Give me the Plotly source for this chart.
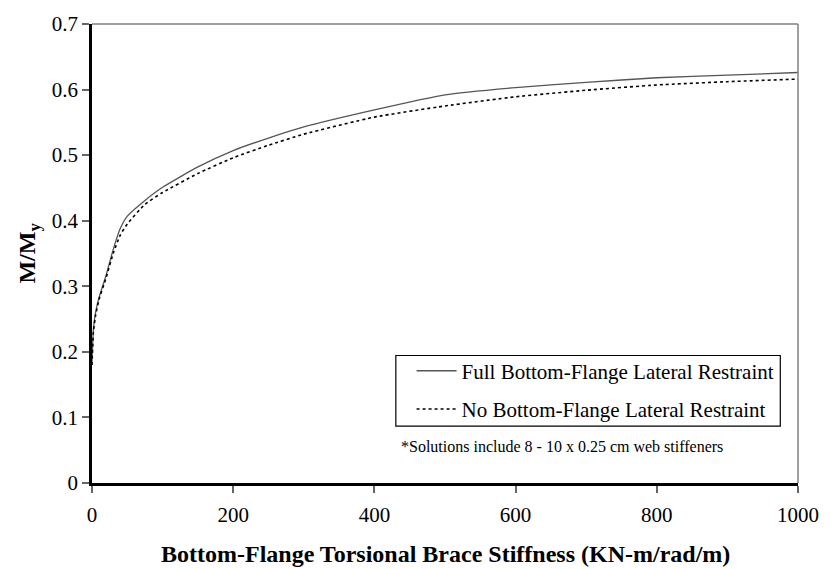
import plotly.graph_objects as go

stiffness = [0, 2, 5, 10, 20, 30, 40, 50, 75, 100, 150, 200, 250, 300, 400, 500, 600, 700, 800, 900, 1000]
full_restraint = [0.185, 0.235, 0.26, 0.283, 0.317, 0.356, 0.388, 0.407, 0.431, 0.451, 0.482, 0.507, 0.526, 0.543, 0.569, 0.592, 0.603, 0.611, 0.618, 0.622, 0.626]
no_restraint = [0.18, 0.23, 0.255, 0.28, 0.313, 0.35, 0.378, 0.395, 0.425, 0.443, 0.472, 0.496, 0.515, 0.532, 0.558, 0.575, 0.589, 0.599, 0.607, 0.612, 0.616]

x_ticks = [0, 200, 400, 600, 800, 1000]
y_ticks = [0, 0.1, 0.2, 0.3, 0.4, 0.5, 0.6, 0.7]
y_tick_text = ["0", "0.1", "0.2", "0.3", "0.4", "0.5", "0.6", "0.7"]

FONT = "Liberation Serif, Times New Roman, serif"

# plot area in pixels
L, R, T, B = 92, 810, 15, 483
PW, PH = R - L, B - T


def px(xp):
    return (xp - L) / PW


def py(yp):
    return (B - yp) / PH


fig = go.Figure()
fig.add_trace(go.Scatter(x=stiffness, y=full_restraint, mode="lines",
                         name="Full Bottom-Flange Lateral Restraint", legendgroup="a",
                         line=dict(color="#555555", width=1.3, shape="spline", smoothing=0.5)))
fig.add_trace(go.Scatter(x=stiffness, y=no_restraint, mode="lines",
                         name="No Bottom-Flange Lateral Restraint", legendgroup="b",
                         line=dict(color="#000000", width=1.6, dash="dot", shape="spline", smoothing=0.5)))

fig.update_layout(
    width=831, height=569,
    margin=dict(l=L, r=831 - R, t=T, b=569 - B),
    paper_bgcolor="white", plot_bgcolor="white",
    font=dict(family=FONT, color="black", size=21),
    showlegend=True,
    legend=dict(x=px(417), y=py(348), xanchor="left", yanchor="top",
                borderwidth=0, bgcolor="rgba(0,0,0,0)",
                font=dict(family=FONT, size=21, color="black"),
                itemwidth=40, tracegroupgap=8),
    xaxis=dict(range=[0, 1000], tickvals=x_ticks, ticks="outside", ticklen=7,
               tickcolor="#666666", tickwidth=1.5, showgrid=False, zeroline=False,
               showline=True, linecolor="black", linewidth=2.5, ticklabelstandoff=4,
               tickfont=dict(family=FONT, size=21)),
    yaxis=dict(range=[0, 0.7], tickvals=y_ticks, ticktext=y_tick_text, ticks="outside", ticklen=7,
               tickcolor="#666666", tickwidth=1.5, showgrid=False, zeroline=False,
               showline=True, linecolor="black", linewidth=2.5,
               tickfont=dict(family=FONT, size=21)),
    shapes=[
        dict(type="line", xref="paper", yref="paper", x0=0, x1=1, y0=1, y1=1,
             line=dict(color="#808080", width=1.5)),
        dict(type="line", xref="paper", yref="paper", x0=1, x1=1, y0=0, y1=1,
             line=dict(color="#808080", width=1.5)),
        dict(type="rect", xref="paper", yref="paper", x0=px(401), x1=px(792), y0=py(425), y1=py(353),
             line=dict(color="black", width=1.2), fillcolor="rgba(0,0,0,0)"),
    ],
    annotations=[
        dict(text="<b>Bottom-Flange Torsional Brace Stiffness (KN-m/rad/m)</b>",
             xref="paper", yref="paper", x=0.5, y=py(555),
             xanchor="center", yanchor="middle", showarrow=False,
             font=dict(family=FONT, size=24, color="black")),
        dict(text="<b>M/M<sub>y</sub></b>", textangle=-90,
             xref="paper", yref="paper", x=-(L - 27) / PW, y=0.5,
             xanchor="center", yanchor="middle", showarrow=False,
             font=dict(family=FONT, size=24, color="black")),
        dict(text="*Solutions include 8 - 10 x 0.25 cm web stiffeners",
             xref="paper", yref="paper", x=px(404), y=py(446),
             xanchor="left", yanchor="middle", showarrow=False,
             font=dict(family=FONT, size=16, color="black")),
    ],
)

fig.write_html("out.html")
